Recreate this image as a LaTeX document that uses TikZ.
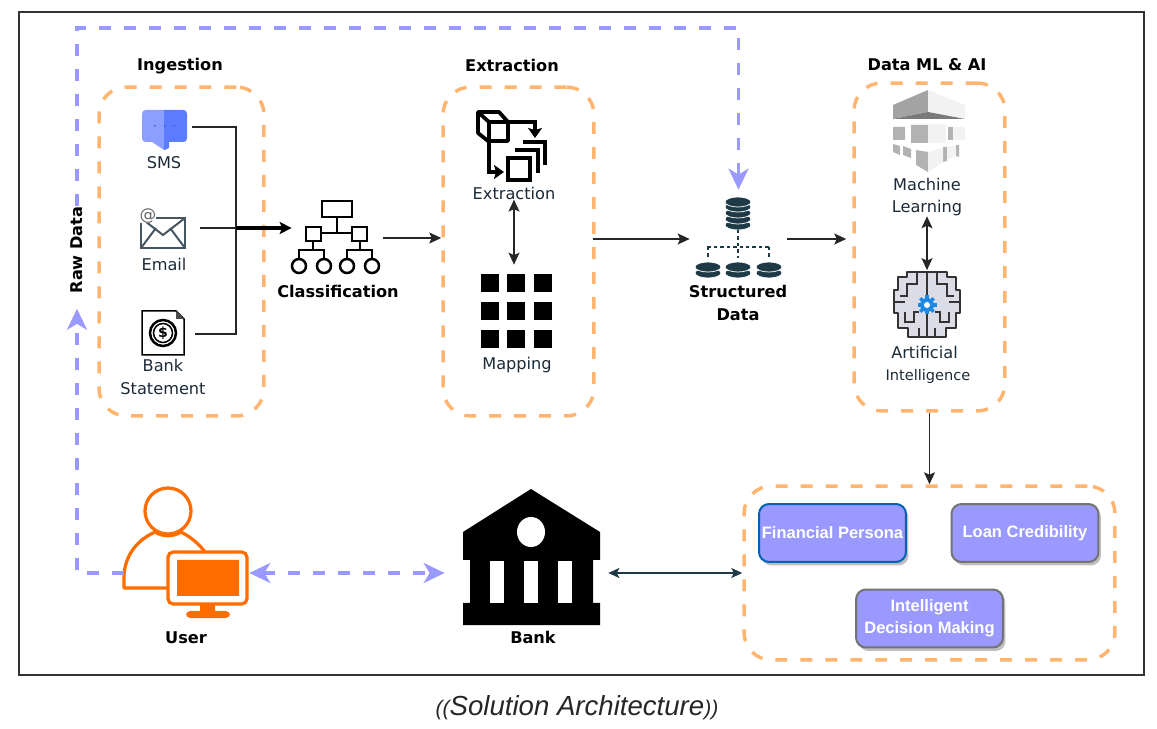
\documentclass[tikz,border=0pt]{standalone}
\usepackage{fontspec}
\setmainfont{DejaVu Sans}
\newfontfamily\arialfont{Liberation Sans}
\usetikzlibrary{arrows.meta,shadows}
\definecolor{orangedash}{HTML}{FFB570}
\definecolor{bluedash}{HTML}{9999FF}
\definecolor{dbdark}{HTML}{1F3A47}
\definecolor{useror}{HTML}{FF6D00}
\definecolor{txtdark}{HTML}{1C2A38}
\definecolor{smslight}{HTML}{8C9EFF}
\definecolor{smsdark}{HTML}{5C7CFF}
\definecolor{envgrey}{HTML}{465660}
\definecolor{brainfill}{HTML}{DCDCE6}
\definecolor{gearblue}{HTML}{1E88E5}
\tikzset{
  lbl/.style={font=\fontsize{9.2}{12.6}\selectfont,text=txtdark,align=center,inner sep=0},
  blbl/.style={lbl,font=\bfseries\fontsize{9.2}{12.6}\selectfont,text=black},
  grp/.style={draw=orangedash,line width=.07cm,dash pattern=on .24cm off .26cm,rounded corners=.55cm,inner sep=0},
  iconbox/.style={inner sep=0,minimum height=.2cm},
  thinarr/.style={-{Stealth[length=.24cm,width=.22cm,inset=.05cm]},line width=.03cm,black!85},
  bothar/.style={{Stealth[length=.24cm,width=.22cm,inset=.05cm]}-{Stealth[length=.24cm,width=.22cm,inset=.05cm]},line width=.03cm,black!85},
  bluearr/.style={draw=bluedash,line width=.07cm,dash pattern=on .24cm off .26cm},
  bluetip/.tip={Stealth[length=.42cm,width=.4cm,inset=.12cm,bluedash]},
  outbtn/.style={fill=bluedash,line width=.04cm,rounded corners=.2cm,minimum width=2.94cm,minimum height=1.16cm,
    text=white,font=\arialfont\bfseries\fontsize{9.4}{12.6}\selectfont,align=center,inner sep=0,
    general shadow={fill=black!25,shadow xshift=.05cm,shadow yshift=-.07cm}}
}
\begin{document}
\begin{tikzpicture}[x=.02cm,y=-.02cm]
\useasboundingbox (0,0) rectangle (1157,729);
\draw[line width=.03cm,black!80] (19,12) rectangle (1144,675);

\node[grp,minimum width=3.3cm,minimum height=6.58cm] (ingbox) at (181.5,251.5) {};
\node[grp,minimum width=3.02cm,minimum height=6.58cm] (extrbox) at (518.5,251.5) {};
\node[grp,minimum width=3.02cm,minimum height=6.56cm] (mlbox) at (929.5,247) {};
\node[grp,minimum width=7.42cm,minimum height=3.48cm] (outbox) at (929.5,573) {};

\node[blbl] (inghead) at (180,66) {Ingestion};
\node[blbl] (extrhead) at (512,65) {Extraction};
\node[blbl] (mlhead) at (927,65) {Data ML \& AI};

\fill[smslight] (164,110) -- (146,110) [rounded corners=2pt] -- (142,110) -- (142,142) [sharp corners] -- (152,142) -- (164,150) -- cycle;
\fill[smsdark] (164,110) [rounded corners=2pt] -- (187,110) -- (187,142) [sharp corners] -- (169,142) -- (169,148) -- (165,150) -- (164,150) -- cycle;
\foreach \dx in {155,165,174} \fill[smsdark!80!black] (\dx,126) circle (1);
\node[iconbox,minimum width=1.12cm] (sms) at (164,127) {};
\node[lbl] (smslbl) at (164,163) {SMS};

\draw[line width=.04cm,envgrey] (141,218) rectangle (185,248);
\draw[line width=.04cm,envgrey] (141,218) -- (163,235) -- (185,218) (141,248) -- (156,228) (185,248) -- (170,228);
\node[fill=white,inner sep=0,font=\fontsize{9.5}{10}\selectfont,text=black!60] (atsign) at (148,216) {@};
\node[iconbox,minimum width=1.44cm] (email) at (164,228) {};
\node[lbl] (emaillbl) at (164,264) {Email};

\draw[line width=.03cm,fill=white] (142,311) -- (176,311) -- (184,319) -- (184,355) -- (142,355) -- cycle;
\fill[black!70] (176,311) -- (184,319) -- (176,319) -- cycle;
\draw[line width=.05cm] (163,333) circle (13);
\draw[line width=.03cm] (163,333) circle (9.5);
\node[inner sep=0,font=\bfseries\fontsize{8}{8}\selectfont] (dollar) at (163,333) {\$};
\node[iconbox,minimum width=1.24cm] (stmt) at (164,334) {};
\node[lbl] (stmtlbl) at (163,377) {Bank\\Statement};

\coordinate (join) at (236,228);
\draw[line width=.03cm,black!85] (sms.east) -| (join) |- (stmt.east);
\draw[line width=.03cm,black!85] (email.east) -- (join);

\draw[line width=.05cm] (322,201) rectangle (352,217) (306,227) rectangle (321,241) (352,227) rectangle (367,241);
\draw[line width=.05cm] (337,217) -- (337,233) (321,233) -- (352,233) (313,241) -- (313,250) (360,241) -- (360,250);
\draw[line width=.05cm] (299,259) -- (299,250) -- (324,250) -- (324,259) (347,259) -- (347,250) -- (372,250) -- (372,259);
\foreach \cx in {299,324,347,372} \draw[line width=.05cm] (\cx,266) circle (7);
\node[iconbox,minimum width=1.82cm] (classif) at (337.5,238) {};
\node[blbl] (classiflbl) at (338,291) {Classification};
\draw[-{Stealth[length=.24cm,width=.24cm,inset=.05cm]},line width=.07cm] (join) -- (join -| classif.west);
\draw[thinarr] (classif.east) -- (classif.east -| extrbox.west);

\draw[line width=.075cm,line join=round] (478,112) -- (499,112) -- (508,122) -- (508,141) -- (488,141) -- (478,133) -- cycle;
\draw[line width=.075cm,line join=round] (478,112) -- (489,122) -- (508,122) (489,122) -- (489,141);
\draw[-{Stealth[length=.2cm,width=.28cm,inset=.04cm]},line width=.075cm] (508,122) -- (535,122) -- (535,138);
\draw[-{Stealth[length=.2cm,width=.28cm,inset=.04cm]},line width=.075cm] (489,141) -- (489,172) -- (504,172);
\draw[line width=.075cm] (508,158) rectangle (530,180);
\draw[line width=.075cm] (515,150) -- (538,150) -- (538,173) (523,142) -- (545,142) -- (545,165);
\node[lbl] (extr) at (514,193) {Extraction};

\foreach \gx in {481,507,534} \foreach \gy in {274,302,330} \fill (\gx,\gy) rectangle ++(18,18);
\node[iconbox,minimum width=1.42cm,minimum height=1.84cm] (mapgrid) at (516.5,311) {};
\node[lbl] (maplbl) at (517,365) {Mapping};
\draw[bothar] (extr.south) -- (extr.south |- mapgrid.north);

\foreach \cy in {225,219,213,207,202} \draw[fill=dbdark,draw=white,line width=.015cm] (738,\cy) ellipse (13 and 5);
\draw[dbdark,line width=.03cm,dash pattern=on .07cm off .06cm] (738,230) -- (738,258) (707,247) -- (769,247) (708,247) -- (708,258) (769,247) -- (769,258);
\foreach \cx in {708,738,769} \foreach \cy in {273,267} \draw[fill=dbdark,draw=white,line width=.015cm] (\cx,\cy) ellipse (13 and 5);
\node[iconbox,minimum width=1.94cm,minimum height=1.96cm] (strdata) at (738.5,239) {};
\node[blbl] (strlbl) at (738,303) {Structured\\Data};
\draw[thinarr,shorten <=-.06cm] (strdata.west -| extrbox.east) -- (strdata.west);
\draw[thinarr,shorten >=.12cm] (strdata.east) -- (strdata.east -| mlbox.west);

\fill[black!36] (893,105) -- (928,90) -- (928,112) -- (893,119) -- cycle;
\fill[black!5] (928,90) -- (965,105) -- (965,119) -- (928,112) -- cycle;
\fill[black!52] (928,112) -- (965,119) -- (893,119) -- cycle;
\fill[black!30] (893,127) rectangle (905,140) (911,125) rectangle (928,143) (948,127) rectangle (953,140);
\fill[black!5] (928,124) rectangle (946,143) (954,127) rectangle (965,140);
\fill[black!30] (893,144) -- (900,146) -- (900,155) -- (893,152) -- cycle (903,146) -- (911,149) -- (911,158) -- (903,155) -- cycle (916,150) -- (928,152) -- (928,172) -- (916,165) -- cycle (943,147) -- (947,147) -- (947,161) -- (943,162) -- cycle (956,145) -- (959,145) -- (959,157) -- (956,156) -- cycle;
\fill[black!5] (928,152) -- (943,148) -- (943,162) -- (928,172) -- cycle (947,147) -- (956,145) -- (956,156) -- (947,160) -- cycle;
\node[lbl] (mllbl) at (927,197) {Machine\\Learning};

\foreach \s in {1,-1} {
\begin{scope}[shift={(927,0)},xscale=\s]
\draw[fill=brainfill,draw=black!80,line width=.035cm,line join=round] (0,272) -- (-20,272) -- (-20,277) -- (-29,277) -- (-29,290) -- (-33,290) -- (-33,313) -- (-29,313) -- (-29,328) -- (-19,328) -- (-19,337) -- (0,337) -- cycle;
\draw[black!80,line width=.035cm] (-10,272) -- (-10,284) -- (-20,284) -- (-20,296) -- (-27,296) (-33,302) -- (-22,302) (-22,312) -- (-22,322) -- (-13,322) -- (-13,312) -- (-8,312) (-8,337) -- (-8,328);
\end{scope}
}
\foreach \s in {0,45,...,315} \draw[line width=.07cm,gearblue] (927,305) -- ++(\s:9.5);
\fill[gearblue] (927,305) circle (7);
\fill[white] (927,305) circle (3);
\node[iconbox,minimum width=1.3cm,minimum height=1.34cm] (aiicon) at (927,304) {};
\node[lbl] (ailbl) at (927,365) {Artificial\hspace*{.1cm}\\{\fontsize{8.3}{12.6}\selectfont Intelligence}\hspace*{-.04cm}};
\draw[bothar] (mllbl.south) -- (mllbl.south |- aiicon.north);

\draw[thinarr] (mlbox.south) -- (outbox.north);
\node[outbtn,draw=blue!45!cyan!70!black] (persona) at (832.5,533) {Financial Persona};
\node[outbtn,draw=black!55] (credit) at (1025,533) {Loan Credibility};
\node[outbtn,draw=black!55] (decision) at (929.5,618.5) {Intelligent\\Decision Making};

\fill (531,489) -- (600,532) -- (600,560) -- (593,560) -- (593,603) -- (600,603) -- (600,625) -- (463,625) -- (463,603) -- (470,603) -- (470,560) -- (463,560) -- (463,532) -- cycle;
\fill[white] (531,532) ellipse (14 and 15);
\foreach \cx in {490,524,558} \fill[white] (\cx,561) rectangle ++(14,42);
\node[iconbox,minimum width=3.44cm] (bank) at (531,573) {};
\node[blbl] (banklbl) at (533,637) {Bank};

\draw[useror,line width=.065cm,line join=round] (168,588) -- (124,588) -- (124,578) .. controls (124,556) and (137,540) .. (155,532) .. controls (163,537) and (173,537) .. (181,532) .. controls (191,537) and (200,545) .. (205,552);
\draw[useror,line width=.065cm] (168,511) circle (23);
\draw[useror,line width=.065cm,fill=white,rounded corners=3pt] (168,552) rectangle (247,604);
\fill[useror] (177,560) rectangle (239,596) (200,604) rectangle (215,612);
\fill[useror,rounded corners=2.5pt] (186,611) rectangle (230,618);
\node[iconbox,minimum width=2.5cm] (user) at (186.5,573) {};
\node[blbl] (userlbl) at (186,638) {User};

\node[blbl,rotate=90] (rawdata) at (77,250) {Raw Data};
\coordinate (topleft) at (77,28);
\draw[bluearr,-bluetip,shorten >=.3cm] (user.west) -| (rawdata.west);
\draw[bluearr,-bluetip] (rawdata.east) -- (topleft) -| (strdata.north);
\draw[bluearr,bluetip-bluetip] (user.east) -- (bank.west);
\draw[{Stealth[length=.22cm,width=.2cm,inset=.05cm]}-{Stealth[length=.22cm,width=.2cm,inset=.05cm]},line width=.025cm,dbdark,shorten <=-.18cm] (bank.east) -- (outbox.west);

\node[inner sep=0,font=\arialfont\itshape\fontsize{15.7}{16}\selectfont,text=black!85] (caption) at (577,708) {{\fontsize{12}{12}\selectfont((}Solution Architecture{\fontsize{12}{12}\selectfont))}};
\end{tikzpicture}
\end{document}
